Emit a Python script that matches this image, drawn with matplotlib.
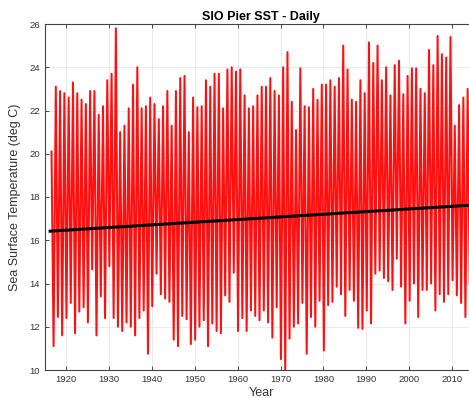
import numpy as np
from matplotlib import pyplot as plt

# pico de verano y minimo de invierno (deg C)
anios_max = np.arange(1916, 2014)
sst_max = [20.1, 23.1, 22.9, 22.8, 22.6, 23.3, 22.8, 22.5, 22.3, 22.9,
           22.9, 21.8, 22.2, 23.4, 23.7, 25.8, 21.0, 21.3, 22.1, 23.2,
           24.0, 22.1, 22.2, 22.6, 22.3, 21.6, 22.2, 22.9, 21.3, 22.9,
           23.5, 23.6, 21.0, 22.6, 22.15, 22.2, 23.4, 23.1, 23.7, 23.7,
           22.1, 23.9, 24.0, 23.8, 23.9, 22.7, 22.1, 22.2, 22.7, 23.1,
           23.1, 23.5, 22.9, 22.7, 24.0, 24.7, 22.4, 21.1, 23.95, 22.2,
           22.15, 23.0, 22.5, 23.2, 23.2, 23.4, 23.1, 23.5, 25.0, 23.9,
           22.5, 22.4, 23.4, 22.8, 25.15, 24.2, 25.0, 23.4, 24.0, 22.7,
           24.1, 24.3, 22.75, 23.6, 23.95, 23.95, 23.0, 22.8, 24.8, 24.1,
           25.45, 24.6, 24.45, 25.4, 21.3, 22.25, 22.6, 23.0]

anios_min = np.arange(1917, 2015)
sst_min = [11.1, 12.45, 11.6, 12.4, 13.1, 11.7, 12.7, 12.9, 12.2, 14.65,
           11.6, 13.4, 12.4, 14.8, 12.4, 12.0, 11.8, 12.2, 12.0, 11.6,
           12.4, 12.75, 10.75, 12.95, 14.45, 13.5, 13.3, 13.15, 11.4, 11.1,
           12.5, 12.35, 11.2, 11.4, 12.0, 12.3, 11.1, 12.15, 11.8, 11.7,
           13.45, 13.15, 14.5, 11.8, 12.4, 11.8, 12.75, 12.5, 12.3, 12.75,
           12.2, 11.5, 12.9, 10.5, 10.0, 11.45, 12.0, 12.15, 13.1, 10.75,
           12.45, 12.0, 13.2, 10.9, 13.0, 13.15, 13.85, 13.5, 12.5, 13.7,
           13.2, 11.95, 11.9, 12.75, 12.15, 14.45, 14.6, 14.25, 14.1, 13.7,
           15.15, 13.85, 12.15, 13.2, 14.0, 12.45, 13.7, 13.7, 14.0, 12.75,
           13.5, 13.15, 13.5, 14.15, 13.45, 13.1, 12.45, 14.0]

# recta de tendencia (extremos leidos)
tendencia_anios = [1916.3, 2015.0]
tendencia_sst = [16.42, 17.63]

# armar la serie alternando pico (agosto) y minimo (febrero)
t = np.concatenate([anios_max + 0.62, anios_min + 0.1])
v = np.concatenate([sst_max, sst_min])
orden = np.argsort(t)
t, v = t[orden], v[orden]

plt.rcParams['font.family'] = ['Liberation Sans', 'DejaVu Sans']

fig = plt.figure(figsize=(4.69, 3.98), dpi=100)
# el eje sigue un poco mas alla del borde derecho de la figura
ax = fig.add_axes([45/469, 1 - 370/398, 432/469, 346/398])

ax.plot(t, v, color='#ff1010', lw=1.45)
ax.plot(tendencia_anios, tendencia_sst, color='black', lw=2.2)

ax.set_xlim(1915.1, 2015.8)
ax.set_ylim(10, 26)
ax.set_xticks(range(1920, 2020, 10))
ax.set_yticks(range(10, 27, 2))
ax.grid(True, color='#e6e6e6', lw=0.6)
ax.set_axisbelow(True)
ax.tick_params(direction='in', top=True, length=3, labelsize=6.8,
               colors='#333333', width=0.6)
for s in ax.spines.values():
  s.set_color('#444444')
  s.set_linewidth(0.8)

ax.set_title('SIO Pier SST - Daily', fontsize=9, fontweight='bold', pad=3)
ax.set_xlabel('Year', fontsize=9, color='#333333', labelpad=2)
ax.set_ylabel('Sea Surface Temperature (deg C)', fontsize=9,
              color='#333333', labelpad=6)

fig.savefig('out.png', dpi=100)
